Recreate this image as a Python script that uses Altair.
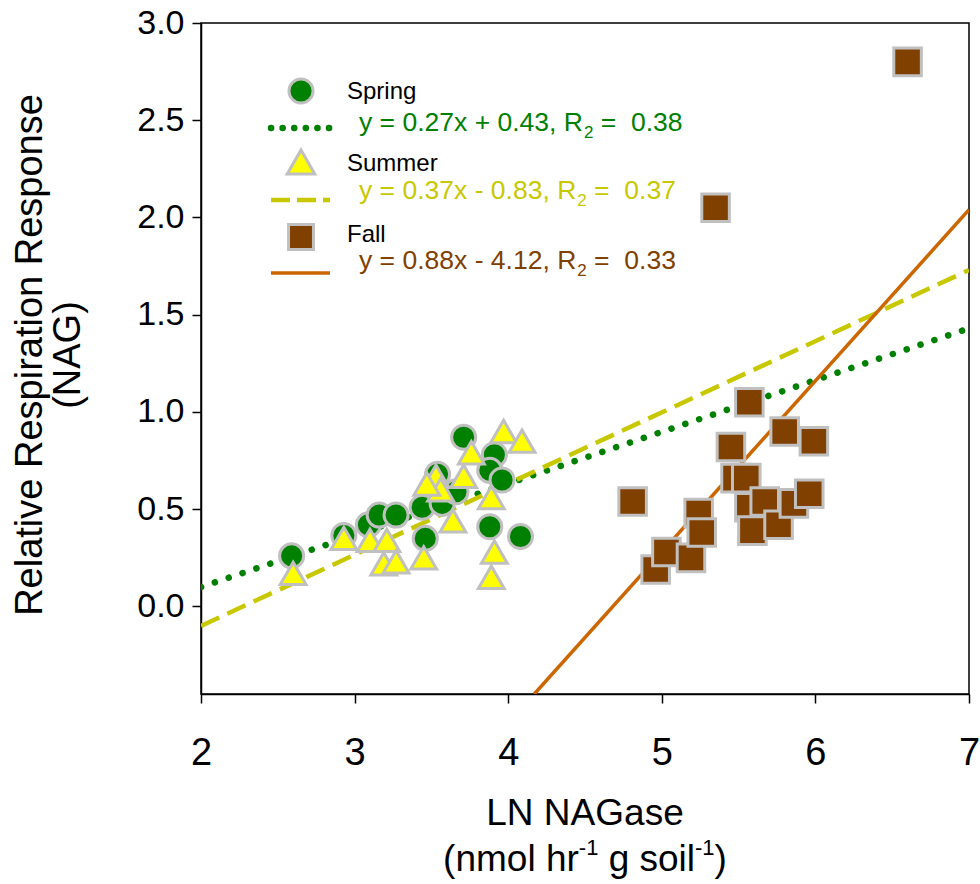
import altair as alt
import pandas as pd

# ---------------- data ----------------
spring_x = [2.59, 2.93, 3.09, 3.16, 3.27, 3.46, 3.44, 3.54, 3.57, 3.66, 3.71, 3.91, 3.88, 3.96, 3.88, 4.08]
spring_y = [0.26, 0.365, 0.42, 0.47, 0.47, 0.35, 0.51, 0.68, 0.53, 0.59, 0.87, 0.78, 0.70, 0.65, 0.41, 0.36]

summer_x = [2.60, 2.93, 3.10, 3.21, 3.19, 3.27, 3.45, 3.53, 3.56, 3.47, 3.64, 3.71, 3.76, 3.97, 4.09, 3.89, 3.91, 3.89]
summer_y = [0.17, 0.35, 0.34, 0.34, 0.22, 0.23, 0.25, 0.67, 0.60, 0.63, 0.44, 0.67, 0.79, 0.90, 0.85, 0.56, 0.28, 0.15]

fall_x = [4.81, 4.96, 5.03, 5.19, 5.24, 5.26, 5.35, 5.45, 5.48, 5.55, 5.57, 5.57, 5.59, 5.67, 5.76, 5.80, 5.86, 5.96, 5.99, 6.60]
fall_y = [0.54, 0.19, 0.28, 0.25, 0.48, 0.38, 2.05, 0.82, 0.66, 0.66, 1.05, 0.51, 0.39, 0.54, 0.42, 0.90, 0.53, 0.58, 0.85, 2.80]

# regression lines (end points)
spring_fit_x = [2.0, 7.0]
spring_fit_y = [0.10, 1.43]
summer_fit_x = [2.0, 7.0]
summer_fit_y = [-0.10, 1.73]
fall_fit_x = [4.17, 7.0]
fall_fit_y = [-0.45, 2.04]

seasons = ["Spring", "Summer", "Fall"]
eq_main = ["y = 0.27x + 0.43, R", "y = 0.37x - 0.83, R", "y = 0.88x - 4.12, R"]
eq_r2 = ["0.38", "0.37", "0.33"]

x_ticks = [2, 3, 4, 5, 6, 7]
y_ticks = [0.0, 0.5, 1.0, 1.5, 2.0, 2.5, 3.0]

# ---------------- styling ----------------
FONT = "Liberation Sans"
GREEN = "#008000"
YELLOW = "#FFFF00"
BROWN = "#804000"
OLIVE = "#C8C800"
ORANGE = "#CC6600"
GRAY = "#C0C0C0"

W, H = 768, 671
PAD = {"left": 201, "top": 23, "right": 11, "bottom": 190}

# Arial/Liberation Sans advance widths (em)
AW = {" ": .278, "=": .584, "+": .584, "-": .333, ".": .278, ",": .278, "x": .5, "y": .5,
      "R": .722, "(": .333, ")": .333, "n": .556, "m": .833, "o": .556, "l": .222,
      "h": .556, "r": .333, "g": .556, "s": .5, "i": .222, "\u00a0": .278}


def tw(s, fs):
    return sum(AW.get(c, .556) for c in s) * fs


pts = pd.concat([
    pd.DataFrame({"x": spring_x, "y": spring_y, "season": "Spring"}),
    pd.DataFrame({"x": summer_x, "y": summer_y, "season": "Summer"}),
    pd.DataFrame({"x": fall_x, "y": fall_y, "season": "Fall"}),
], ignore_index=True)

xscale = alt.Scale(domain=[2, 7], nice=False, zero=False)
yscale = alt.Scale(domain=[-0.45, 3.0], nice=False, zero=False)

xaxis = alt.Axis(values=x_ticks, format="d", title=None, grid=False, labelFont=FONT,
                 labelFontSize=38, labelColor="black", labelPadding=31, tickSize=9,
                 labelFlush=False, labelOverlap=False,
                 tickColor="black", tickWidth=1.5, domainColor="black", domainWidth=1.5)
yaxis = alt.Axis(values=y_ticks, format=".1f", title=None, grid=False, labelFont=FONT,
                 labelFontSize=34, labelColor="black", labelPadding=8, tickSize=9,
                 labelFlush=False, labelOverlap=False,
                 tickColor="black", tickWidth=1.5, domainColor="black", domainWidth=1.5)


def fit_line(xs, ys, color, dash, width, cap="butt"):
    df = pd.DataFrame({"x": xs, "y": ys})
    kw = dict(color=color, strokeWidth=width, strokeCap=cap, clip=True)
    if dash:
        kw["strokeDash"] = dash
    return alt.Chart(df).mark_line(**kw).encode(
        x=alt.X("x:Q", scale=xscale, axis=xaxis),
        y=alt.Y("y:Q", scale=yscale, axis=yaxis),
    )


lines = [
    fit_line(spring_fit_x, spring_fit_y, GREEN, [0.1, 14.5], 6.5, "round"),
    fit_line(summer_fit_x, summer_fit_y, OLIVE, [20, 9], 4.5),
    fit_line(fall_fit_x, fall_fit_y, ORANGE, None, 3.5),
]

points = alt.Chart(pts).mark_point(filled=True, opacity=1, stroke=GRAY, strokeWidth=3).encode(
    x=alt.X("x:Q", scale=xscale, axis=xaxis),
    y=alt.Y("y:Q", scale=yscale, axis=yaxis),
    shape=alt.Shape("season:N", scale=alt.Scale(domain=seasons, range=["circle", "triangle-up", "square"]), legend=None),
    fill=alt.Fill("season:N", scale=alt.Scale(domain=seasons, range=[GREEN, YELLOW, BROWN]), legend=None),
    size=alt.Size("season:N", scale=alt.Scale(domain=seasons, range=[580, 760, 620]), legend=None),
)

one = pd.DataFrame({"a": [0]})


def txt(s, x, y, fs, color="black", align="left", angle=0):
    kw = dict(text=s, font=FONT, fontSize=fs, color=color, align=align, baseline="middle")
    if angle:
        kw["angle"] = angle
    return alt.Chart(one).mark_text(**kw).encode(x=alt.value(x), y=alt.value(y))


def sym(shape, fill, x, y, size):
    return alt.Chart(one).mark_point(shape=shape, filled=True, fill=fill, opacity=1, stroke=GRAY,
                                     strokeWidth=3, size=size).encode(x=alt.value(x), y=alt.value(y))


def rule(x1, x2, y, color, width, dash=None, cap="butt"):
    kw = dict(color=color, strokeWidth=width, strokeCap=cap)
    if dash:
        kw["strokeDash"] = dash
    return alt.Chart(one).mark_rule(**kw).encode(x=alt.value(x1), x2=alt.value(x2), y=alt.value(y))


layers = lines + [points]

# ---- legend ----
leg_rows = [
    # marker y, label y, line y, eq y
    (68, 69, 105, 100),
    (139, 141, 177, 168),
    (214, 212, 250, 238),
]
shapes = ["circle", "triangle-up", "square"]
fills = [GREEN, YELLOW, BROWN]
sizes = [580, 760, 620]
eq_colors = [GREEN, OLIVE, BROWN]
line_specs = [
    (GREEN, 6.5, [0.1, 11.5], "round"),
    (OLIVE, 4.5, [19, 7], "butt"),
    (ORANGE, 3.5, None, "butt"),
]
EQ_FS = 26.5
SUB_FS = 17
for i in range(3):
    my, ly, liny, ey = leg_rows[i]
    layers.append(sym(shapes[i], fills[i], 100, my, sizes[i]))
    layers.append(txt(seasons[i], 146, ly, 24))
    col, wdt, dash, cap = line_specs[i]
    layers.append(rule(70, 129, liny, col, wdt, dash, cap))
    x0 = 158
    layers.append(txt(eq_main[i], x0, ey, EQ_FS, eq_colors[i]))
    xs = x0 + tw(eq_main[i], EQ_FS) + 1
    layers.append(txt("2", xs, ey + 10, SUB_FS, eq_colors[i]))
    x3 = xs + 0.556 * SUB_FS + tw(" ", EQ_FS)
    layers.append(txt("=\u00a0\u00a0" + eq_r2[i], x3, ey, EQ_FS, eq_colors[i]))

# ---- axis titles ----
layers.append(txt("Relative Respiration Response", -170, 332, 38, align="center", angle=270))
layers.append(txt("(NAG)", -132, 332, 38, align="center", angle=270))
layers.append(txt("LN NAGase", W / 2, 791, 37, align="center"))

XT_FS = 37
SUP_FS = 22
parts = [("(nmol hr", XT_FS, 0), ("-1", SUP_FS, -12), ("g soil", XT_FS, 0), ("-1", SUP_FS, -12), (")", XT_FS, 0)]
gaps = [0, 0, tw(" ", XT_FS), 0, 0]
total = sum(tw(p[0], p[1]) for p in parts) + sum(gaps)
cx = W / 2 - total / 2
for (s, fs, dy), g in zip(parts, gaps):
    cx += g
    layers.append(txt(s, cx, 837 + dy, fs))
    cx += tw(s, fs)

chart = alt.layer(*layers).properties(
    width=W, height=H, autosize=alt.AutoSizeParams(type="none"), padding=PAD,
    background="white",
).configure_view(stroke="black", strokeWidth=1.5)

chart.save("out.html", embed_options={"renderer": "svg", "actions": False})
